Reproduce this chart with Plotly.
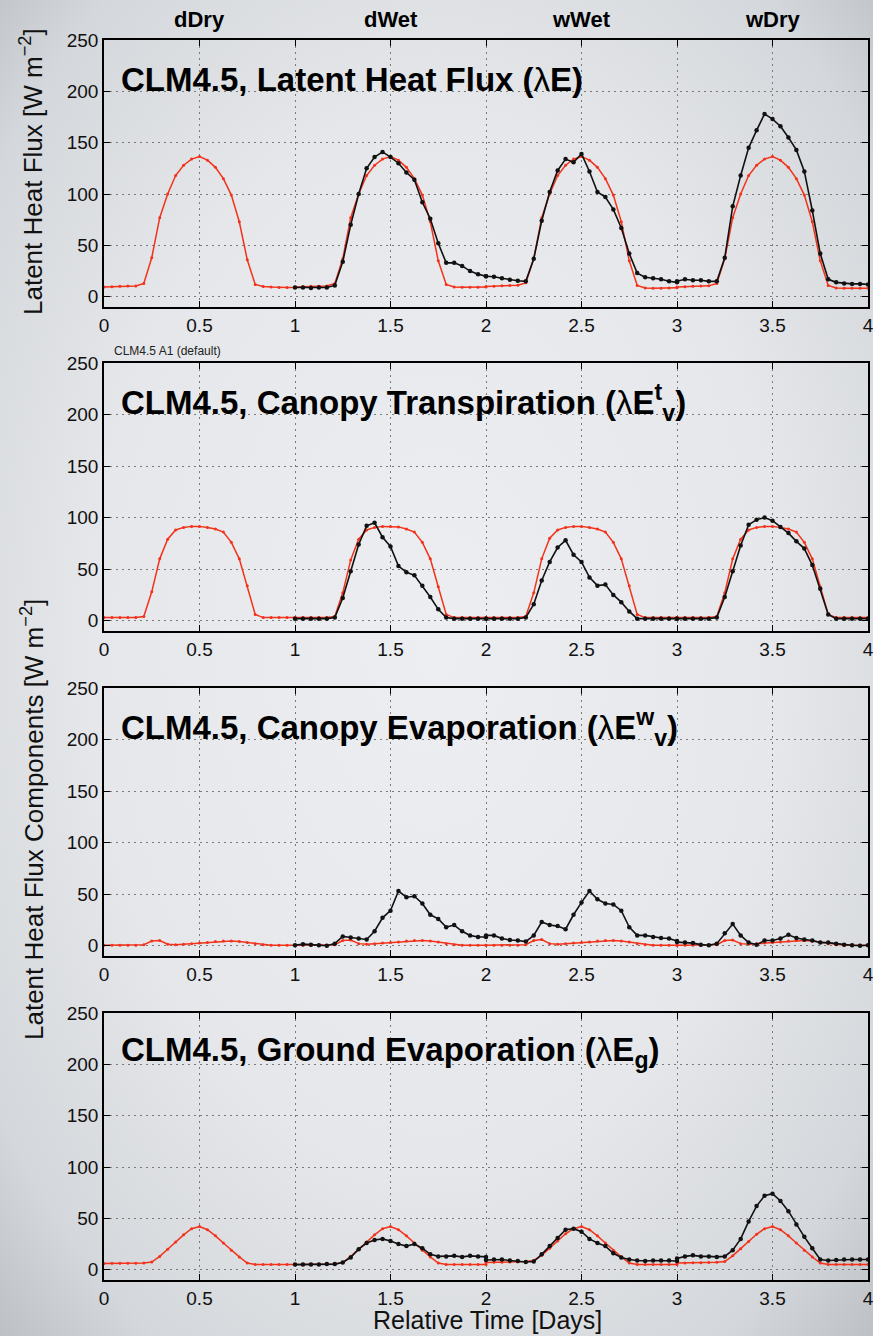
import base64
import plotly.graph_objects as go

# ---------------- data (hourly values, one list per day) ----------------
HOURS = list(range(25))          # hour-of-day sample index 0..24
RED_DAYS = [0, 1, 2, 3]
BLACK_DAYS = [1, 2, 3]
X_TICKS = [0, 0.5, 1, 1.5, 2, 2.5, 3, 3.5, 4]
Y_TICKS = [0, 50, 100, 150, 200, 250]
TOP_LABELS = ["dDry", "dWet", "wWet", "wDry"]
TOP_LABEL_X = [0.5, 1.5, 2.5, 3.5]

# Panel 1: latent heat flux
le_red = [
    [9.5, 9.8, 10.2, 10.4, 10.5, 13, 38, 77, 100, 118, 128, 134, 136.5, 133, 126, 115, 99, 73, 36, 12, 10, 9.5, 9, 9, 9],
    [9.5, 9.8, 10.1, 10.3, 10.5, 13, 37, 77, 100, 118, 128, 134, 136.5, 133, 126, 115, 99, 73, 35, 12, 9.5, 9.3, 9.2, 9.3, 9.5],
    [10, 10.3, 10.7, 11, 11.2, 13.5, 37, 77, 100, 118, 128, 134, 136.5, 133, 126, 115, 99, 73, 35, 11, 8.5, 8.3, 8.3, 8.5, 8.8],
    [9.5, 9.8, 10.2, 10.5, 10.6, 13, 37, 77, 100, 118, 128, 134, 136.5, 133, 126, 115, 99, 73, 35, 11, 8.5, 8.3, 8.3, 8.3, 8.3],
]
le_black = [
    [9, 9, 8.5, 9, 9, 11, 34, 70, 100, 125, 136, 141, 136, 130, 121, 114, 92, 76, 52, 33, 33, 30, 25, 22, 20],
    [20, 19.5, 18, 16.5, 15.5, 15, 37, 74, 102, 123, 134, 131, 139, 122, 102, 97, 85, 67, 42, 23, 19, 18, 17, 15, 14],
    [15, 17, 16, 16, 15, 15, 38, 88, 118, 145, 162, 178, 173, 166, 155, 143, 122, 84, 42, 17, 14, 13, 12.5, 12.5, 12],
]

# Panel 2: canopy transpiration
tr_red = [
    [3, 3, 3, 3, 3, 4, 28, 60, 79, 88, 90.5, 91.5, 91.5, 90.5, 89, 86, 76, 60, 34, 6, 3, 3, 3, 3, 3],
    [3, 3, 3, 3, 3, 4, 27, 59, 79, 88, 90.5, 91.5, 91.5, 91, 89, 86, 76, 60, 33, 6, 3, 3, 3, 3, 3],
    [3, 3, 3, 3, 3, 4, 27, 60, 80, 88, 90.5, 91.5, 91.5, 90.5, 89, 86, 76, 60, 34, 6, 3, 3, 3, 3, 3],
    [3, 3, 3, 3, 3, 4, 27, 60, 79, 88, 90.5, 91.5, 91.5, 90.5, 89, 86, 76, 60, 33, 6, 3, 3, 3, 3, 3],
]
tr_black = [
    [2, 2, 2, 2, 2, 3, 22, 48, 74, 92, 95, 81, 72, 53, 47, 44, 34, 23, 11, 3, 2, 2, 2, 2, 2],
    [2, 2, 2, 2, 2, 3, 16, 39, 57, 71, 78, 64, 57, 42, 34, 35, 25, 18, 9, 2, 2, 2, 2, 2, 2],
    [2, 2, 2, 2, 2, 3, 23, 48, 73, 93, 98, 100, 97, 91, 85, 77, 70, 54, 31, 6, 2, 2, 2, 2, 2],
]

# Panel 3: canopy evaporation
ev_red = [
    [0.5, 0.5, 0.5, 0.5, 0.5, 1, 4.5, 5, 1.5, 1, 1.5, 2, 2.5, 3, 4, 4.5, 4.5, 4, 3, 2, 1, 0.5, 0.5, 0.5, 0.5],
    [0.5, 0.5, 0.5, 0.5, 0.5, 1, 5, 5.5, 2, 1.5, 2, 2.5, 3, 3.5, 4.5, 5, 5, 4.5, 3.5, 2, 1, 0.5, 0.5, 0.5, 0.5],
    [0.5, 0.5, 0.5, 0.5, 0.5, 1, 5, 6, 2, 1.5, 2, 2.5, 3, 3.5, 4.5, 5, 5, 4.5, 3.5, 2, 1, 0.5, 0.5, 0.5, 0.5],
    [0.5, 0.5, 0.5, 0.5, 0.5, 1, 5, 5.5, 2, 1.5, 2, 2.5, 3, 3.5, 4.5, 5, 5, 4.5, 3.5, 2, 1, 0.5, 0.5, 0.5, 0.5],
]
ev_black = [
    [0.5, 1.5, 1, 0.5, 0, 2, 9, 8, 7, 6, 14, 27, 34, 53, 47, 48, 41, 30, 26, 18, 20, 14, 10, 8.5, 8.5],
    [10, 10, 7, 5.5, 5, 4, 10, 23, 20, 19, 16, 30, 42, 53, 45, 41, 40, 34, 18, 10, 10, 8.5, 7.5, 7, 4.5],
    [3.5, 3, 2.5, 1, 0.5, 2, 12, 21, 10, 3, 1, 5, 5, 7, 10.5, 7.5, 6, 5, 3, 3, 2, 1, 0.5, 0, 0.5],
]

# Panel 4: ground evaporation
gr_red = [
    [6, 6.2, 6.3, 6.3, 6.4, 6.5, 7.5, 13, 20, 27, 34, 40, 42, 39, 33, 26, 19, 12.5, 6.5, 5, 5, 5, 5, 5, 5],
    [5, 5.2, 5.3, 5.4, 5.5, 5.6, 7, 13, 20, 27, 34, 40, 42, 39, 33, 26, 19, 12.5, 6.5, 5, 5, 5, 5, 5, 5],
    [7, 7.2, 7.4, 7.6, 7.8, 8, 9, 14, 21, 28, 35, 40, 42, 39, 33, 26, 19, 12.5, 6.5, 5, 5, 5, 5, 5, 5],
    [6.5, 6.6, 6.8, 6.9, 7, 7.2, 8, 13.5, 20.5, 27.5, 34.5, 40, 42, 39, 33, 26, 19, 12.5, 6.5, 5, 5, 5, 5, 5, 5],
]
gr_black = [
    [5, 5, 5, 5, 5.5, 5.5, 7, 12, 20, 26, 29, 30, 28, 25, 23, 25, 21, 15, 13, 13, 13.5, 12.5, 13.5, 13, 12.5],
    [9.5, 10, 10, 9, 8.5, 7.5, 8, 15, 23, 31, 39, 40, 37, 30, 26, 23, 16, 12, 10, 9, 8.5, 9, 9, 9, 8.5],
    [11, 13, 14, 13, 13, 12.5, 13, 19, 30, 47, 62, 72, 74, 67, 57, 44, 32, 21, 10, 9, 9.5, 10, 10, 10, 10],
]

PANEL_TITLES = [
    "<b>CLM4.5, Latent Heat Flux (</b>λ<b>E)</b>",
    "<b>CLM4.5, Canopy Transpiration (</b>λ<b>E<sup>t</sup><sub>v</sub>)</b>",
    "<b>CLM4.5, Canopy Evaporation (</b>λ<b>E<sup>w</sup><sub>v</sub>)</b>",
    "<b>CLM4.5, Ground Evaporation (</b>λ<b>E<sub>g</sub>)</b>",
]
PANELS = [(le_red, le_black), (tr_red, tr_black), (ev_red, ev_black), (gr_red, gr_black)]

# ---------------- styling ----------------
W, H = 873, 1336
RED = "#f3321b"
BLACK = "#111111"
FONT = "Liberation Sans, Arial, Helvetica, sans-serif"
X_DOMAIN = [104 / W, 868 / W]
PANEL_PIX = [(40, 307), (363, 631), (688, 956), (1013, 1280)]


def series(days, vals):
    xs, ys = [], []
    for d, day_vals in zip(days, vals):
        xs += [d + h / 24 for h in HOURS] + [None]
        ys += list(day_vals) + [None]
    return xs, ys


fig = go.Figure()
layout_axes = {}
annotations = []
for i, (red, blk) in enumerate(PANELS):
    n = "" if i == 0 else str(i + 1)
    xr, yr = series(RED_DAYS, red)
    xb, yb = series(BLACK_DAYS, blk)
    fig.add_trace(go.Scatter(
        x=xr, y=yr, xaxis="x" + n, yaxis="y" + n, mode="lines+markers",
        line=dict(color=RED, width=1.5), marker=dict(size=3, color=RED),
        showlegend=False, hoverinfo="skip"))
    fig.add_trace(go.Scatter(
        x=xb, y=yb, xaxis="x" + n, yaxis="y" + n, mode="lines+markers",
        line=dict(color=BLACK, width=1.6), marker=dict(size=4.5, color=BLACK),
        showlegend=False, hoverinfo="skip"))
    top, bot = PANEL_PIX[i]
    common = dict(ticks="inside", ticklen=6, tickwidth=1, tickcolor="black",
                  showline=True, linecolor="black", linewidth=1.5, mirror="ticks",
                  showgrid=True, gridcolor="#7a7a7a", griddash="2px,4px", gridwidth=1,
                  zeroline=False, automargin=False, ticklabeloverflow="allow",
                  tickfont=dict(family=FONT, size=19, color="#111"))
    layout_axes["xaxis" + n] = dict(common, domain=X_DOMAIN, range=[0, 4], tickvals=X_TICKS,
                                    anchor="y" + n)
    layout_axes["yaxis" + n] = dict(common, domain=[1 - bot / H, 1 - top / H], range=[-10, 250],
                                    tickvals=Y_TICKS, anchor="x" + n)
    annotations.append(dict(
        text=PANEL_TITLES[i], xref="x" + n, yref="y" + n,
        x=0.078, y=212, xanchor="left", yanchor="middle", showarrow=False,
        font=dict(family=FONT, size=33, color="black")))

for lab, xv in zip(TOP_LABELS, TOP_LABEL_X):
    annotations.append(dict(text="<b>" + lab + "</b>", xref="x", yref="paper", x=xv,
                            y=1 - 20 / H, xanchor="center", yanchor="middle", showarrow=False,
                            font=dict(family=FONT, size=22, color="black")))

annotations += [
    dict(text="CLM4.5 A1 (default)", xref="x2", yref="paper", x=0.042, y=1 - 351 / H,
         xanchor="left", yanchor="middle", showarrow=False,
         font=dict(family=FONT, size=12, color="#222")),
    dict(text="Latent Heat Flux [W m<sup>−2</sup>]", xref="paper", yref="paper",
         x=32 / W, y=1 - 172 / H, xanchor="center", yanchor="middle", textangle=-90,
         showarrow=False, font=dict(family=FONT, size=26, color="#111")),
    dict(text="Latent Heat Flux Components [W m<sup>−2</sup>]", xref="paper", yref="paper",
         x=32 / W, y=1 - 820 / H, xanchor="center", yanchor="middle", textangle=-90,
         showarrow=False, font=dict(family=FONT, size=26, color="#111")),
    dict(text="Relative Time [Days]", xref="paper", yref="paper",
         x=487 / W, y=1 - 1320 / H, xanchor="center", yanchor="middle",
         showarrow=False, font=dict(family=FONT, size=25, color="#111")),
]

svg = (
    "<svg xmlns='http://www.w3.org/2000/svg' width='873' height='1336' viewBox='0 0 873 1336' "
    "preserveAspectRatio='none'><defs><radialGradient id='g' cx='50%' cy='48%' r='72%'>"
    "<stop offset='0%' stop-color='#eceef1'/><stop offset='55%' stop-color='#e5e7ea'/>"
    "<stop offset='85%' stop-color='#d4d7db'/><stop offset='100%' stop-color='#bdc0c5'/>"
    "</radialGradient></defs><rect width='873' height='1336' fill='url(#g)'/></svg>"
)
bg_src = "data:image/svg+xml;base64," + base64.b64encode(svg.encode()).decode()

fig.update_layout(
    width=W, height=H,
    margin=dict(l=0, r=0, t=0, b=0, autoexpand=False),
    paper_bgcolor="#e4e6e9",
    plot_bgcolor="rgba(0,0,0,0)",
    annotations=annotations,
    images=[dict(source=bg_src, xref="paper", yref="paper", x=0, y=1, sizex=1, sizey=1,
                 xanchor="left", yanchor="top", sizing="stretch", layer="below")],
    **layout_axes,
)

fig.write_html(
    "out.html",
    config={"displayModeBar": False},
    post_script="document.body.style.margin='0';document.body.style.overflow='hidden';",
)
